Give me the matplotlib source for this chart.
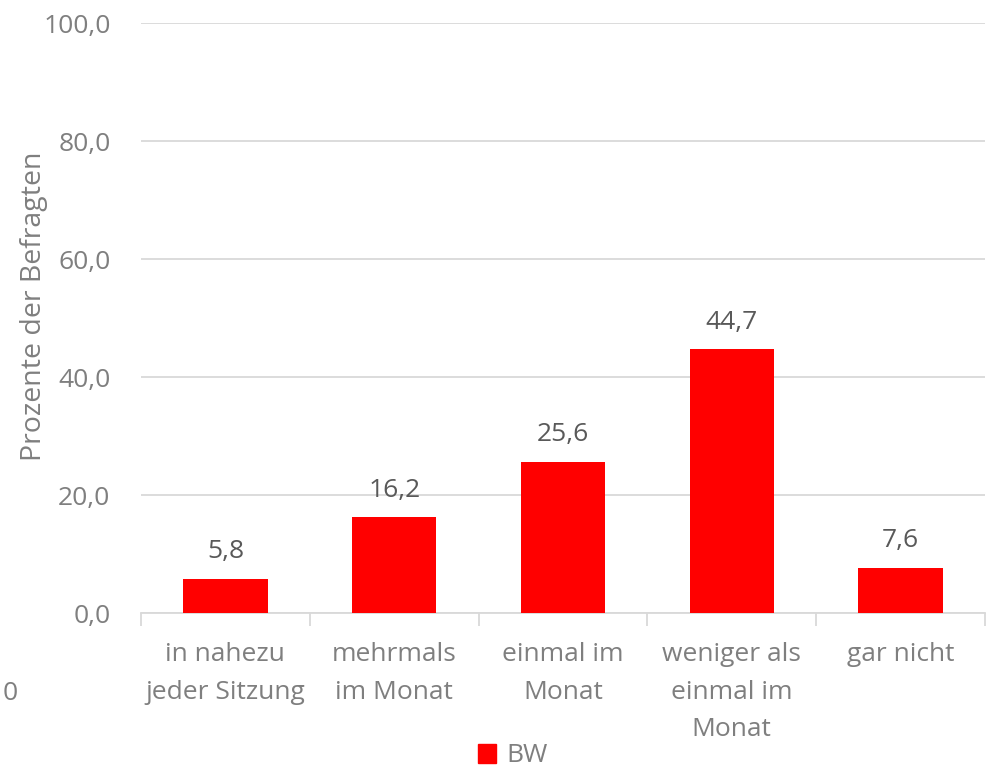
import numpy as np
import matplotlib.pyplot as plt
from matplotlib.patches import Patch

categories = ["in nahezu\njeder Sitzung", "mehrmals\nim Monat", "einmal im\nMonat",
              "weniger als\neinmal im\nMonat", "gar nicht"]
values = [5.8, 16.2, 25.6, 44.7, 7.6]
yticks = [0, 20, 40, 60, 80, 100]

plt.rcParams['font.family'] = ['Open Sans', 'DejaVu Sans']
grey = "#7f7f7f"
dark = "#595959"
grid = "#d9d9d9"
fs = 19

fig = plt.figure(figsize=(9.91, 7.7), dpi=100)
ax = fig.add_axes([141/991, 1-613/770, (985-141)/991, 590/770])

x = np.arange(len(values))
ax.bar(x, values, width=0.5, color="#ff0000", zorder=3)
for xi, v in zip(x, values):
    ax.text(xi, v + 2.5, f"{v:.1f}".replace(".", ","), ha="center", va="bottom",
            fontsize=fs, color=dark)

ax.set_xlim(-0.5, len(values) - 0.5)
ax.set_ylim(0, 100)
ax.set_yticks(yticks)
ax.set_yticklabels([f"{t:.1f}".replace(".", ",") for t in yticks], fontsize=fs, color=grey)
ax.yaxis.grid(True, color=grid, lw=1.3, zorder=0)
ax.tick_params(axis="y", length=0, pad=22)

# category separators
ax.set_xticks(np.arange(-0.5, len(values), 1.0))
ax.set_xticklabels([])
ax.tick_params(axis="x", length=9, color=grid, width=1.3, direction="out")
ax.set_xticks(x, minor=True)
ax.set_xticklabels(categories, minor=True, fontsize=fs, color=grey, linespacing=1.66)
ax.tick_params(axis="x", which="minor", length=0, pad=21)

for s in ["top", "right", "left"]:
    ax.spines[s].set_visible(False)
ax.spines["bottom"].set_color(grid)
ax.spines["bottom"].set_linewidth(1.3)

ax.set_ylabel("Prozente der Befragten", fontsize=20.5, color=grey)
ax.yaxis.set_label_coords(-0.110, 0.52)

fig.text(10/991, 1-693/770, "0", fontsize=fs, color=grey, ha="center", va="center")

fig.legend(handles=[Patch(color="#ff0000")], labels=["BW"], loc="center",
           bbox_to_anchor=(513/991, 1-756/770), frameon=False, fontsize=fs,
           labelcolor=grey, handlelength=0.7, handleheight=0.7, handletextpad=0.4)

fig.savefig("out.png", dpi=100, facecolor="white")
